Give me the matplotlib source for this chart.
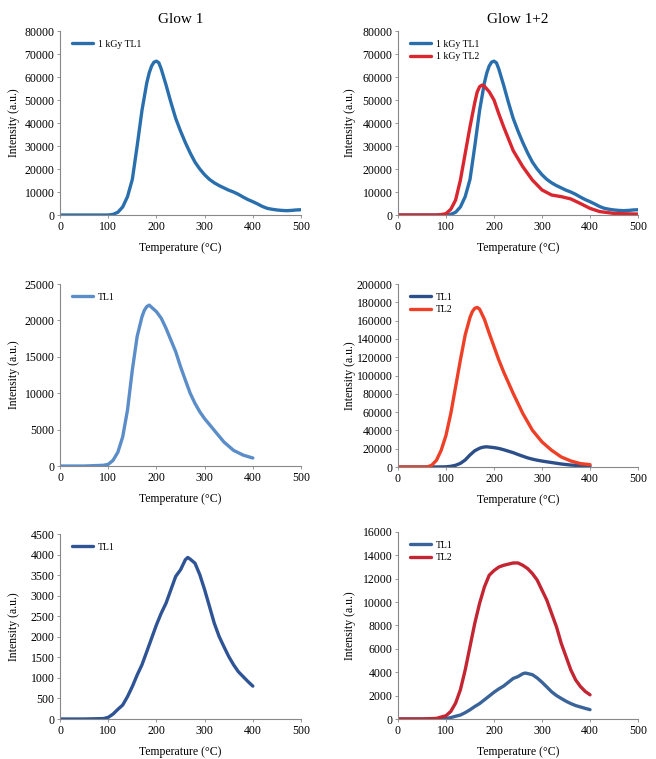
"""Thermoluminescence glow curves: Glow 1 vs Glow 1+2 (three samples)."""

import matplotlib

matplotlib.use("Agg")
import matplotlib.pyplot as plt
import numpy as np

plt.rcParams["font.family"] = ["Liberation Serif", "DejaVu Serif"]

# --- data -------------------------------------------------------------------
# row 1: 1 kGy, 0-500 C
temp_a = [0, 50, 100, 110, 120, 130, 140, 150, 160, 170, 180, 185, 190, 195,
          200, 205, 210, 220, 230, 240, 250, 260, 270, 280, 290, 300, 310,
          320, 330, 340, 350, 360, 370, 380, 390, 400, 410, 420, 430, 440,
          450, 460, 470, 480, 490, 500]
tl1_a = [0, 0, 0, 300, 1200, 3500, 8000, 15500, 30000, 45500, 57500, 61800,
         64800, 66500, 66900, 66200, 63500, 56500, 49000, 42000, 36500, 31500,
         27000, 23000, 20000, 17500, 15500, 14000, 12800, 11800, 10800, 10000,
         9000, 7800, 6700, 5800, 4800, 3700, 2900, 2500, 2200, 2000, 1900,
         2000, 2200, 2300]
temp_a2 = [0, 50, 80, 90, 100, 110, 120, 130, 140, 150, 160, 165, 170, 175,
           180, 190, 200, 210, 220, 240, 260, 280, 300, 320, 340, 360, 380,
           400, 420, 450, 500]
tl2_a = [0, 0, 0, 200, 600, 2500, 6500, 15200, 26800, 38400, 49000, 53500,
         55800, 56500, 56000, 53600, 50000, 44000, 38400, 28000, 21000, 15200,
         10900, 8700, 8000, 7000, 5000, 2900, 1500, 700, 400]

# row 2: 0-400 C
temp_b = [0, 50, 90, 100, 110, 120, 130, 140, 150, 160, 170, 175, 180, 185,
          190, 200, 210, 220, 230, 240, 250, 260, 270, 280, 290, 300, 320,
          340, 360, 380, 400]
tl1_b = [0, 0, 100, 230, 780, 1900, 4000, 7700, 13200, 17800, 20500, 21400,
         21900, 22100, 21800, 21200, 20300, 18900, 17300, 15700, 13650, 11800,
         10000, 8600, 7450, 6500, 4900, 3300, 2150, 1500, 1100]
temp_b2 = [0, 50, 60, 70, 80, 90, 100, 110, 120, 130, 140, 150, 155, 160,
           165, 170, 180, 190, 200, 210, 220, 240, 260, 280, 300, 320, 340,
           360, 380, 400]
tl2_b = [0, 0, 0, 1800, 7300, 18300, 34700, 58500, 87700, 117000, 144400,
         163500, 170000, 173500, 174400, 172500, 161500, 146200, 131600,
         117000, 104000, 80400, 58500, 40200, 27400, 18300, 11000, 6600, 3700,
         2600]

# row 3: 0-400 C
temp_c = [0, 50, 90, 100, 110, 120, 130, 140, 150, 160, 170, 180, 190, 200,
          210, 220, 230, 240, 250, 260, 265, 270, 280, 290, 300, 310, 320,
          330, 340, 350, 360, 370, 380, 390, 400]
tl1_c = [0, 0, 10, 40, 120, 235, 340, 545, 790, 1070, 1320, 1640, 1965, 2290,
         2575, 2820, 3145, 3470, 3630, 3875, 3930, 3890, 3790, 3510, 3145,
         2740, 2330, 2010, 1760, 1520, 1320, 1150, 1030, 910, 800]
temp_c2 = [0, 50, 80, 90, 100, 110, 120, 130, 140, 150, 160, 170, 180, 190,
           200, 210, 220, 230, 240, 250, 260, 270, 280, 290, 300, 310, 320,
           330, 340, 350, 360, 370, 380, 390, 400]
tl2_c = [0, 0, 50, 170, 280, 650, 1360, 2500, 4200, 6200, 8200, 9900, 11300,
         12300, 12700, 13000, 13150, 13250, 13350, 13350, 13150, 12870, 12440,
         11880, 11020, 10170, 9030, 7900, 6480, 5340, 4200, 3350, 2780, 2360,
         2070]

panels = [
    # (axes rect, ymax, ystep, series[(x, y, label, color)], title, ylabel x)
    ([0.0915, 0.7167, 0.3674, 0.2424], 80000, 10000,
     [(temp_a, tl1_a, "1 kGy TL1", "#2a6fad")], "Glow 1", -0.167),
    ([0.6067, 0.7167, 0.3659, 0.2424], 80000, 10000,
     [(temp_a, tl1_a, "1 kGy TL1", "#2a6fad"),
      (temp_a2, tl2_a, "1 kGy TL2", "#d9262f")], "Glow 1+2", -0.177),
    ([0.0915, 0.3860, 0.3674, 0.2398], 25000, 5000,
     [(temp_b, tl1_b, "TL1", "#5b8dc9")], None, -0.167),
    ([0.6067, 0.3847, 0.3659, 0.2411], 200000, 20000,
     [(temp_b, tl1_b, "TL1", "#2c4f8a"),
      (temp_b2, tl2_b, "TL2", "#ee4026")], None, -0.177),
    ([0.0915, 0.0527, 0.3674, 0.2437], 4500, 500,
     [(temp_c, tl1_c, "TL1", "#2f5496")], None, -0.167),
    ([0.6067, 0.0527, 0.3659, 0.2464], 16000, 2000,
     [(temp_c, tl1_c, "TL1", "#3a6399"),
      (temp_c2, tl2_c, "TL2", "#c32532")], None, -0.177),
]

fig = plt.figure(figsize=(6.56, 7.59), dpi=100)

for rect, ymax, ystep, series, title, ylab_x in panels:
    ax = fig.add_axes(rect)
    for x, y, label, color in series:
        ax.plot(x, y, color=color, lw=2.4, label=label,
                solid_capstyle="round", solid_joinstyle="round")
    ax.set_xlim(0, 500)
    ax.set_ylim(0, ymax)
    ax.set_xticks(np.arange(0, 501, 100))
    ax.set_yticks(np.arange(0, ymax + 1, ystep))
    ax.tick_params(labelsize=8.5, length=2, width=0.6, color="#888888", pad=2)
    for side in ("top", "right"):
        ax.spines[side].set_visible(False)
    for side in ("left", "bottom"):
        ax.spines[side].set_color("#888888")
        ax.spines[side].set_linewidth(0.8)
    ax.set_xlabel("Temperature (°C)", fontsize=8.5, labelpad=7)
    ax.set_ylabel("Intensity (a.u.)", fontsize=8.5)
    ax.yaxis.set_label_coords(ylab_x, 0.5)
    ax.legend(loc="upper left", frameon=False, fontsize=7,
              handlelength=2.2, handletextpad=0.5, labelspacing=0.35,
              borderaxespad=0.3, bbox_to_anchor=(0.02, 0.99))
    if title:
        ax.set_title(title, fontsize=11, pad=6)

fig.savefig("out.png", dpi=100)
